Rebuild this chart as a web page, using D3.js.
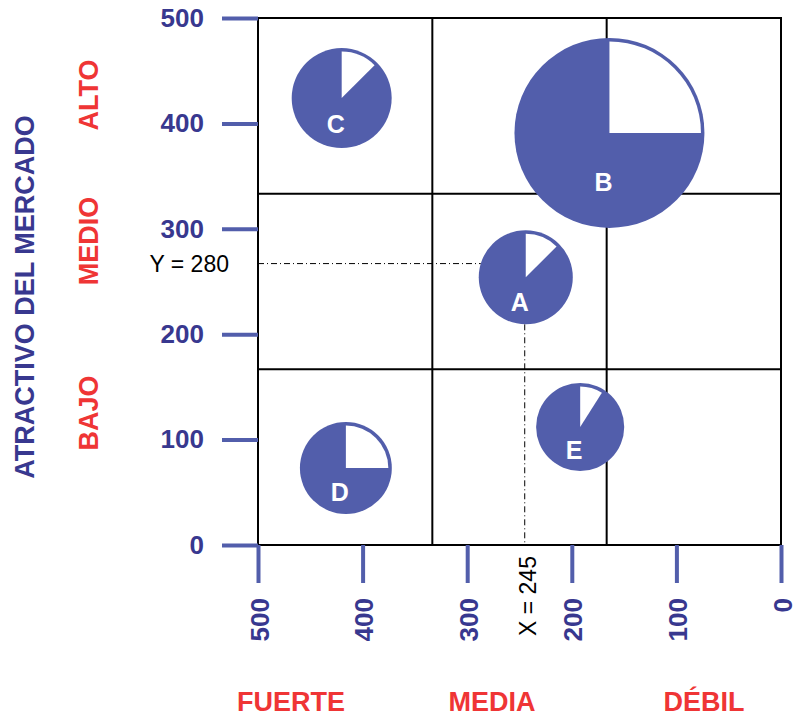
<!DOCTYPE html>
<html>
<head>
<meta charset="utf-8">
<script src="https://cdn.jsdelivr.net/npm/d3@7"></script>
<style>
  body { margin: 0; background: #fff; }
  text { font-family: 'Liberation Sans', Arial, sans-serif; }
</style>
</head>
<body>
<svg width="795" height="716"></svg>
<script>
const width = 795, height = 716

// Data
const units = ['A', 'B', 'C', 'D', 'E'];
const strength = [244, 164, 420, 416, 192];     // x: posición competitiva (500 = fuerte)
const attract = [254, 391, 424, 73, 112];       // y: atractivo del mercado
const marketSize = [24.5, 100, 27.7, 23.4, 21.5]; // bubble area
const shareGap = [0.125, 0.25, 0.125, 0.25, 0.09]; // white slice

const tickValues = [0, 100, 200, 300, 400, 500];
const rowLabels = ['ALTO', 'MEDIO', 'BAJO'];
const colLabels = ['FUERTE', 'MEDIA', 'DÉBIL'];
const guideX = 245, guideY = 267;
const guideXLabel = 'X = 245', guideYLabel = 'Y = 280';

const blue = '#525eab', navy = '#38388f', red = '#ef3535';

const svg = d3.select('svg');

const x = d3.scaleLinear().domain([500, 0]).range([258, 781]);
const y = d3.scaleLinear().domain([0, 500]).range([545, 18]);
const r = d3.scaleSqrt().domain([0, 100]).range([0, 95]);

// frame + grid in thirds
svg.append('rect')
    .attr('x', x(500)).attr('y', y(500))
    .attr('width', x(0) - x(500)).attr('height', y(0) - y(500))
    .attr('fill', 'none').attr('stroke', '#000').attr('stroke-width', 2);

[500 / 3, 1000 / 3].forEach(v => {
    svg.append('line')
        .attr('x1', x(v)).attr('x2', x(v)).attr('y1', y(500)).attr('y2', y(0))
        .attr('stroke', '#000').attr('stroke-width', 2);
    svg.append('line')
        .attr('x1', x(500)).attr('x2', x(0)).attr('y1', y(v)).attr('y2', y(v))
        .attr('stroke', '#000').attr('stroke-width', 2);
});

// y axis
const yAxis = svg.append('g')
    .attr('transform', `translate(${x(500)},0)`)
    .call(d3.axisLeft(y).tickValues(tickValues).tickSize(36).tickPadding(18).tickFormat(d3.format('d')));
yAxis.select('.domain').remove();
yAxis.selectAll('.tick line').attr('stroke', blue).attr('stroke-width', 4);
yAxis.selectAll('.tick text')
    .attr('fill', navy)
    .style('font-size', '26px')
    .style('font-weight', 'bold')
    .style('font-family', 'Liberation Sans, Arial, sans-serif');

// x axis (rotated labels)
const xAxis = svg.append('g')
    .attr('transform', `translate(0,${y(0)})`)
    .call(d3.axisBottom(x).tickValues(tickValues).tickSize(38).tickFormat(d3.format('d')));
xAxis.select('.domain').remove();
xAxis.selectAll('.tick line').attr('stroke', blue).attr('stroke-width', 4);
xAxis.selectAll('.tick text')
    .attr('fill', navy)
    .attr('y', 0).attr('dy', null)
    .attr('transform', 'translate(1,53) rotate(-90)')
    .attr('text-anchor', 'end')
    .attr('dominant-baseline', 'central')
    .style('font-size', '26px')
    .style('font-weight', 'bold')
    .style('font-family', 'Liberation Sans, Arial, sans-serif');

// guide lines for A
const i = units.indexOf('A');
const rA = r(marketSize[i]);
svg.append('line')
    .attr('x1', x(500)).attr('x2', x(strength[i]) - Math.sqrt(rA * rA - (y(guideY) - y(attract[i])) ** 2))
    .attr('y1', y(guideY)).attr('y2', y(guideY))
    .attr('stroke', '#000').attr('stroke-width', 1).attr('stroke-dasharray', '6,3,1,3');
svg.append('line')
    .attr('x1', x(guideX)).attr('x2', x(guideX))
    .attr('y1', y(attract[i]) + rA).attr('y2', y(0))
    .attr('stroke', '#000').attr('stroke-width', 1).attr('stroke-dasharray', '6,3,1,3');

svg.append('text')
    .attr('x', x(500) - 29).attr('y', y(guideY))
    .attr('text-anchor', 'end').attr('dominant-baseline', 'central')
    .style('font-size', '23px')
    .text(guideYLabel);
svg.append('text')
    .attr('transform', `translate(${x(guideX) + 3},636) rotate(-90)`)
    .attr('text-anchor', 'start').attr('dominant-baseline', 'central')
    .style('font-size', '23px')
    .text(guideXLabel);

// pies
const arc = d3.arc().innerRadius(0);
const pies = svg.selectAll('g.pie')
    .data(units.map((u, k) => ({ name: u, sx: strength[k], sy: attract[k], size: marketSize[k], gap: shareGap[k] })))
    .enter()
    .append('g')
    .attr('class', 'pie')
    .attr('transform', d => `translate(${x(d.sx)},${y(d.sy)})`);

pies.append('circle')
    .attr('r', d => r(d.size))
    .attr('fill', blue);

pies.append('path')
    .attr('d', d => arc({ outerRadius: r(d.size) - 3.5, startAngle: 0, endAngle: d.gap * 2 * Math.PI }))
    .attr('fill', '#fff');

pies.append('text')
    .attr('x', -6)
    .attr('y', d => r(d.size) * 0.52)
    .attr('text-anchor', 'middle').attr('dominant-baseline', 'central')
    .attr('fill', '#fff')
    .style('font-size', '25px').style('font-weight', 'bold')
    .text(d => d.name);

// category labels
svg.append('text')
    .attr('transform', 'translate(25,297) rotate(-90)')
    .attr('text-anchor', 'middle').attr('dominant-baseline', 'central')
    .attr('fill', navy)
    .style('font-size', '27px').style('font-weight', 'bold')
    .text('ATRACTIVO DEL MERCADO');

const rowY = [95, 241, 413];
svg.selectAll('text.row')
    .data(rowLabels)
    .enter()
    .append('text')
    .attr('class', 'row')
    .attr('transform', (d, k) => `translate(89,${rowY[k]}) rotate(-90)`)
    .attr('text-anchor', 'middle').attr('dominant-baseline', 'central')
    .attr('fill', red)
    .style('font-size', '27px').style('font-weight', 'bold')
    .text(d => d);

const colX = [291, 492, 704];
svg.selectAll('text.col')
    .data(colLabels)
    .enter()
    .append('text')
    .attr('class', 'col')
    .attr('x', (d, k) => colX[k])
    .attr('y', 711)
    .attr('text-anchor', 'middle')
    .attr('fill', red)
    .style('font-size', '27px').style('font-weight', 'bold')
    .text(d => d);
</script>
</body>
</html>
